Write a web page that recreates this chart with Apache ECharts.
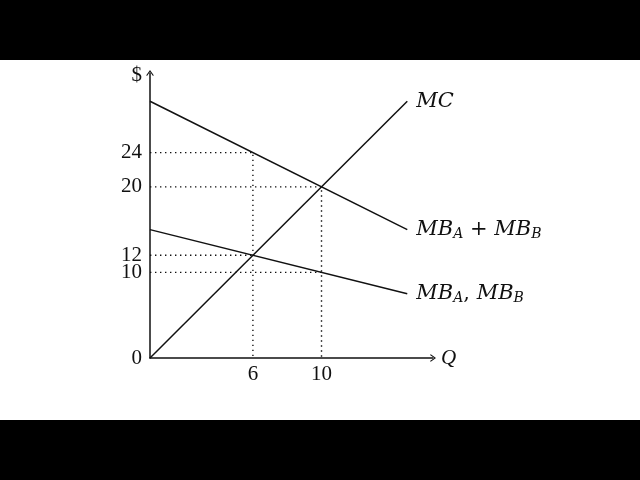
<!DOCTYPE html>
<html>
<head>
<meta charset="utf-8">
<script src="https://cdn.jsdelivr.net/npm/echarts@6/dist/echarts.min.js"></script>
<style>
  html, body { margin: 0; padding: 0; background: #000; }
  #chart { position: absolute; left: 0; top: 60px; width: 640px; height: 360px; background: #fff; }
</style>
</head>
<body>
<div id="chart"></div>
<script>
// curves (quantity Q, price $)
var mcQ = [0, 15];
var mcP = [0, 30];
var mbSumQ = [0, 15];
var mbSumP = [30, 15];
var mbEachQ = [0, 15];
var mbEachP = [15, 7.5];

// dotted guide lines
var guide24 = [[0, 24], [6, 24], [6, 0]];
var guide20 = [[0, 20], [10, 20], [10, 0]];
var guide12 = [[0, 12], [6, 12]];
var guide10 = [[0, 10], [10, 10]];

// tick labels
var xTicks = [6, 10];
var yTicks = [0, 10, 12, 20, 24];

var font = 'Liberation Serif';
var labelFont = 'DejaVu Serif';
var ink = '#111';

function pairs(xs, ys) {
  var out = [];
  for (var i = 0; i < xs.length; i++) out.push([xs[i], ys[i]]);
  return out;
}

var rich = {
  m: { fontFamily: labelFont, fontSize: 21, fontStyle: 'italic', color: ink },
  s: { fontFamily: labelFont, fontSize: 14, fontStyle: 'italic', color: ink, verticalAlign: 'bottom', padding: [9, 0, 0, 0] },
  p: { fontFamily: labelFont, fontSize: 21, color: ink }
};

function curve(name, data, label) {
  return {
    name: name,
    type: 'line',
    symbol: 'none',
    silent: true,
    lineStyle: { color: ink, width: 1.5 },
    data: data,
    endLabel: { show: true, distance: 9, formatter: label, rich: rich }
  };
}

function guide(data) {
  return {
    type: 'line',
    symbol: 'none',
    silent: true,
    lineStyle: { color: ink, width: 1.4, type: [1.4, 3.6] },
    data: data
  };
}

var arrow = 'path://M5,0 L10,7 L9,8 L5,2.2 L1,8 L0,7 Z';

var chart = echarts.init(document.getElementById('chart'));
var option = {
  animation: false,
  grid: { left: 150, right: 207, top: 13, bottom: 62 },
  xAxis: {
    type: 'value',
    min: 0,
    max: 16.5,
    name: 'Q',
    nameLocation: 'end',
    nameGap: 8,
    nameTextStyle: { fontFamily: font, fontSize: 21, fontStyle: 'italic', color: ink },
    axisLine: { lineStyle: { color: ink, width: 1.5 }, symbol: ['none', arrow], symbolSize: [8, 6] },
    axisTick: { show: false },
    splitLine: { show: false },
    axisLabel: { customValues: xTicks, margin: 6, fontFamily: font, fontSize: 21, color: ink }
  },
  yAxis: {
    type: 'value',
    min: 0,
    max: 33.3,
    name: '$',
    nameLocation: 'end',
    nameGap: -2,
    nameTextStyle: { fontFamily: font, fontSize: 21, color: ink, align: 'right', verticalAlign: 'middle', padding: [0, 8, 0, 0] },
    axisLine: { show: true, lineStyle: { color: ink, width: 1.5 }, symbol: ['none', arrow], symbolSize: [8, 6] },
    axisTick: { show: false },
    splitLine: { show: false },
    axisLabel: { customValues: yTicks, margin: 8, fontFamily: font, fontSize: 21, color: ink }
  },
  series: [
    guide(guide24),
    guide(guide20),
    guide(guide12),
    guide(guide10),
    curve('MC', pairs(mcQ, mcP), '{m|MC}'),
    curve('MB_A + MB_B', pairs(mbSumQ, mbSumP), '{m|MB}{s|A}{p| + }{m|MB}{s|B}'),
    curve('MB_A, MB_B', pairs(mbEachQ, mbEachP), '{m|MB}{s|A}{p|, }{m|MB}{s|B}')
  ]
};
chart.setOption(option);
</script>
</body>
</html>
